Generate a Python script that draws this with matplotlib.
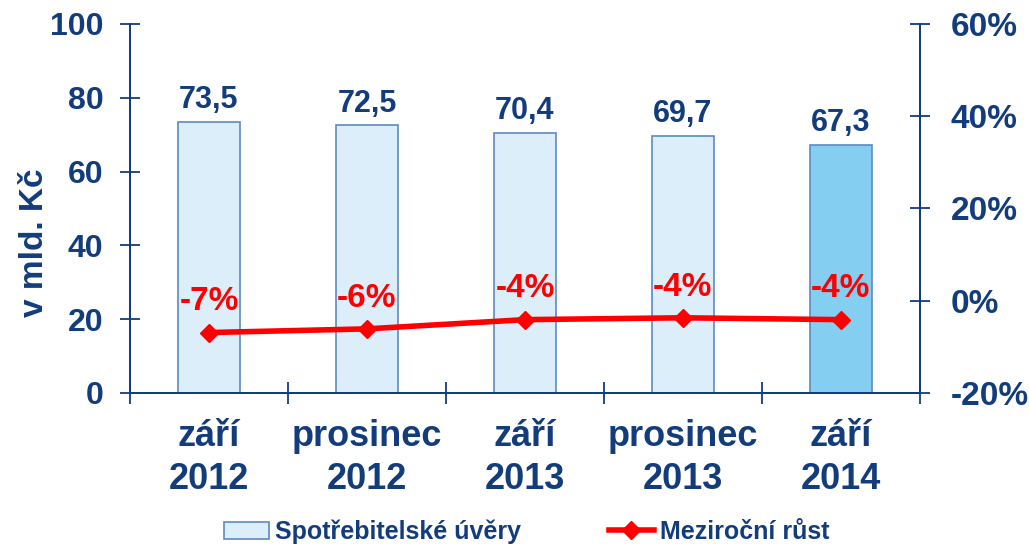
import matplotlib.pyplot as plt
import numpy as np

plt.rcParams["font.family"] = ["Liberation Sans", "DejaVu Sans"]
plt.rcParams["font.weight"] = "bold"

navy = "#123C7C"
red = "#FF0000"

categories = ["září\n2012", "prosinec\n2012", "září\n2013", "prosinec\n2013", "září\n2014"]
volumes = [73.5, 72.5, 70.4, 69.7, 67.3]
growth = [-6.9, -6.1, -4.1, -3.7, -4.1]
growth_labels = ["-7%", "-6%", "-4%", "-4%", "-4%"]
bar_colors = ["#DDEEFB", "#DDEEFB", "#DDEEFB", "#DDEEFB", "#84CEF2"]

fig = plt.figure(figsize=(10.29, 5.49), dpi=100)
ax = fig.add_axes([0.1263, 0.2842, 0.7677, 0.6721])
ax2 = ax.twinx()

x = np.arange(len(categories))

# --- bars ---
bars = ax.bar(x, volumes, width=0.39, color=bar_colors, edgecolor="#5E8AC0",
              linewidth=1.2, zorder=2, label="Spotřebitelské úvěry")
for xi, v in zip(x, volumes):
    ax.annotate(f"{v:.1f}".replace(".", ","), (xi, v), xytext=(0, 5),
                textcoords="offset points", ha="center", va="bottom",
                fontsize=22, fontweight="bold", color=navy)

ax.set_xlim(-0.5, len(categories) - 0.5)
ax.set_ylim(0, 100)
ax.set_yticks([0, 20, 40, 60, 80, 100])
ax.set_ylabel("v mld. Kč", fontsize=24, fontweight="bold", color=navy)
ax.yaxis.set_label_coords(-0.101, 0.406)

# category boundaries as ticks, labels at centres
ax.set_xticks(np.arange(-0.5, len(categories) + 0.5, 1))
ax.set_xticklabels([])
ax.set_xticks(x, minor=True)
ax.set_xticklabels(categories, minor=True, fontsize=26, fontweight="bold",
                   color=navy, linespacing=1.3)
ax.tick_params(axis="x", which="minor", length=0, pad=19)
ax.tick_params(axis="x", which="major", direction="inout", length=16,
               width=1.3, color=navy)
ax.tick_params(axis="y", direction="inout", length=14, width=1.3,
               color=navy, labelsize=23, labelcolor=navy, pad=12)

# --- line ---
line, = ax2.plot(x, growth, color=red, linewidth=4, marker="D", markersize=9,
                 zorder=3, label="Meziroční růst")
for xi, g, lab in zip(x, growth, growth_labels):
    ax2.annotate(lab, (xi, g), xytext=(0, 11), textcoords="offset points",
                 ha="center", va="bottom", fontsize=24, fontweight="bold",
                 color=red)

ax2.set_ylim(-20, 60)
ax2.set_yticks([-20, 0, 20, 40, 60])
ax2.set_yticklabels([f"{t}%" for t in [-20, 0, 20, 40, 60]])
ax2.tick_params(axis="y", direction="inout", length=14, width=1.3,
                color=navy, labelsize=24, labelcolor=navy, pad=15)

for a in (ax, ax2):
    a.spines["top"].set_visible(False)
    for s in ("left", "right", "bottom"):
        a.spines[s].set_color(navy)
        a.spines[s].set_linewidth(1.3)

ax.set_zorder(ax2.get_zorder() - 1)
ax.patch.set_visible(False)

fig.legend([bars, line], ["Spotřebitelské úvěry", "Meziroční růst"],
           loc="lower center", bbox_to_anchor=(0.512, -0.032), ncol=2,
           frameon=False, labelcolor=navy, columnspacing=3.5,
           handlelength=1.8, handletextpad=0.25, prop={"weight": "bold", "size": 18})

fig.savefig("out.png", dpi=100)
